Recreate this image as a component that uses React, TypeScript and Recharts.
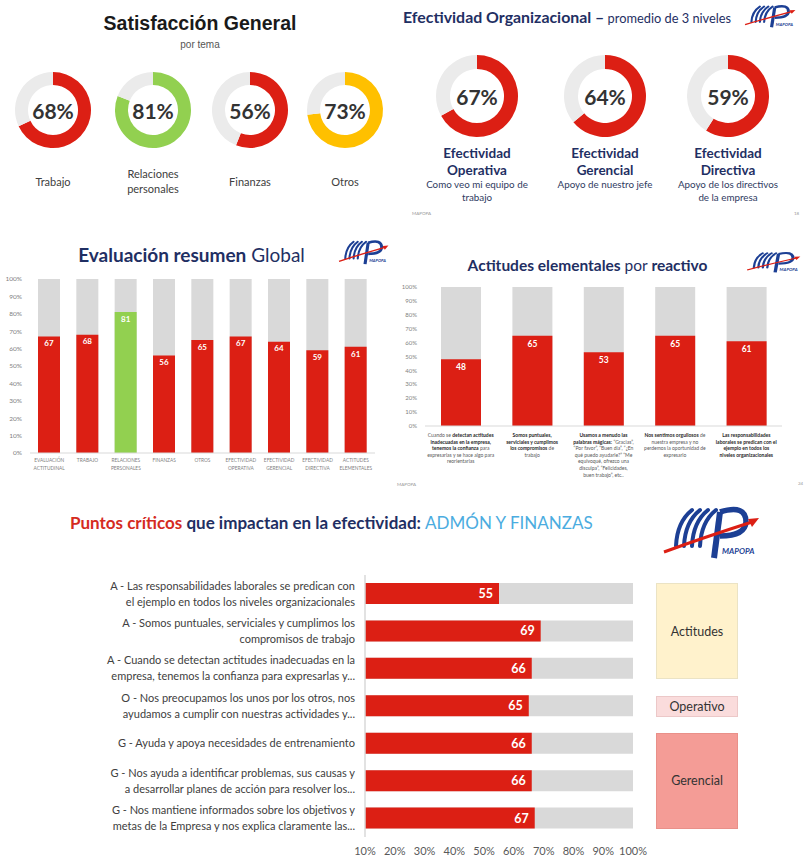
import { PieChart, Pie, Cell, BarChart, Bar, XAxis, YAxis, LabelList } from "recharts";

// ---- data ----
const temaLabels = [["Trabajo"], ["Relaciones", "personales"], ["Finanzas"], ["Otros"]];
const temaValues = [68, 81, 56, 73];

const efectividadNames = ["Operativa", "Gerencial", "Directiva"];
const efectividadDesc = [
  ["Como veo mi equipo de", "trabajo"],
  ["Apoyo de nuestro jefe"],
  ["Apoyo de los directivos", "de la empresa"],
];
const efectividadValues = [67, 64, 59];

const resumenLabels = [
  ["EVALUACIÓN", "ACTITUDINAL"],
  ["TRABAJO"],
  ["RELACIONES", "PERSONALES"],
  ["FINANZAS"],
  ["OTROS"],
  ["EFECTIVIDAD", "OPERATIVA"],
  ["EFECTIVIDAD", "GERENCIAL"],
  ["EFECTIVIDAD", "DIRECTIVA"],
  ["ACTITUDES", "ELEMENTALES"],
];
const resumenValues = [67, 68, 81, 56, 65, 67, 64, 59, 61];

const reactivoLabels = [
  ["Cuando se detectan actitudes", "inadecuadas en la empresa,", "tenemos la confianza para", "expresarlas y se hace algo para", "reorientarlas"],
  ["Somos puntuales,", "serviciales y cumplimos", "los compromisos de", "trabajo"],
  ["Usamos a menudo las", "palabras mágicas: “Gracias”,", "“Por favor”, “Buen día”, “¿En", "qué puedo ayudarle?” “Me", "equivoqué, ofrezco una", "disculpa”,  “Felicidades,", "buen trabajo”, etc.."],
  ["Nos sentimos orgullosos de", "nuestra empresa y no", "perdemos la oportunidad de", "expresarlo"],
  ["Las responsabilidades", "laborales se predican con el", "ejemplo en todos los", "niveles organizacionales"],
];
const reactivoValues = [48, 65, 53, 65, 61];

const criticosLabels = [
  ["A - Las responsabilidades laborales se predican con", "el ejemplo en todos los niveles organizacionales"],
  ["A - Somos puntuales, serviciales y cumplimos los", "compromisos de trabajo"],
  ["A - Cuando se detectan actitudes inadecuadas en la", "empresa, tenemos la confianza para expresarlas y..."],
  ["O - Nos preocupamos los unos por los otros, nos", "ayudamos a cumplir con nuestras actividades y..."],
  ["G - Ayuda y apoya necesidades de entrenamiento"],
  ["G - Nos ayuda a identificar problemas, sus causas y", "a desarrollar planes de acción para resolver los..."],
  ["G - Nos mantiene informados sobre los objetivos y", "metas de la Empresa y nos explica claramente las..."],
];
const criticosValues = [55, 69, 66, 65, 66, 66, 67];
const criticosTicks = [10, 20, 30, 40, 50, 60, 70, 80, 90, 100];

const grupoNames = ["Actitudes", "Operativo", "Gerencial"];
const grupoRows = [3, 1, 3];

const pctTicks = [0, 10, 20, 30, 40, 50, 60, 70, 80, 90, 100];

// ---- styles ----
const RED = "#dc1f14";
const GREEN = "#92d050";
const YELLOW = "#ffc000";
const TRACK = "#ebebeb";
const GREY_BAR = "#d9d9d9";
const NAVY = "#1f2f63";
const LOGO_BLUE = "#1c3f94";
const FONT = "Lato, 'Open Sans', sans-serif";
const GRUPO_FILLS = ["#fff2cc", "#fadcdc", "#f49c96"];
const GRUPO_BORDERS = ["#ebe3c4", "#ecc8c8", "#e99089"];

// phrases set in bold inside the reactivo captions
const REACTIVO_BOLD = [
  "detectan actitudes",
  "inadecuadas en la empresa,",
  "tenemos la confianza",
  "Somos puntuales,",
  "serviciales y cumplimos",
  "los compromisos",
  "Usamos a menudo las",
  "palabras mágicas:",
  "Nos sentimos orgullosos",
  "Las responsabilidades",
  "laborales se predican con el",
  "ejemplo en todos los",
  "niveles organizacionales",
];

const levelColor = (v: number) => (v >= 80 ? GREEN : v >= 70 ? YELLOW : RED);

const resumenData = resumenValues.map((value, i) => ({ name: resumenLabels[i].join(" "), value }));
const reactivoData = reactivoValues.map((value, i) => ({ name: "r" + i, value }));
const criticosData = criticosValues.map((value, i) => ({ name: "c" + i, value }));

function Donut({ value, size, outer, inner, fontSize }: any) {
  const data = [
    { name: "valor", value },
    { name: "resto", value: 100 - value },
  ];
  return (
    <div style={{ position: "relative", width: size, height: size }}>
      <PieChart width={size} height={size} margin={{ top: 0, right: 0, bottom: 0, left: 0 }}>
        <Pie
          data={data}
          dataKey="value"
          cx="50%"
          cy="50%"
          innerRadius={inner}
          outerRadius={outer}
          startAngle={90}
          endAngle={-270}
          stroke="none"
          isAnimationActive={false}
        >
          <Cell fill={levelColor(value)} />
          <Cell fill={TRACK} />
        </Pie>
      </PieChart>
      <div
        style={{
          position: "absolute",
          inset: 0,
          display: "flex",
          alignItems: "center",
          justifyContent: "center",
          fontSize,
          fontWeight: 700,
          color: "#333",
        }}
      >
        {value}%
      </div>
    </div>
  );
}

function Logo({ left, top, width, height }: any) {
  return (
    <svg
      style={{ position: "absolute", left, top }}
      width={width}
      height={height}
      viewBox="0 0 100 60"
      preserveAspectRatio="none"
    >
      {[0, 1, 2, 3].map((i) => (
        <path
          key={i}
          d={`M${14 + 8 * i} 44 Q ${15 + 8 * i} 20 ${30 + 8 * i} 8`}
          stroke={LOGO_BLUE}
          strokeWidth={4}
          fill="none"
          strokeLinecap="round"
        />
      ))}
      <path d="M52 56 L58 10" stroke={LOGO_BLUE} strokeWidth={6} fill="none" />
      <path d="M58 10 Q 84 2 84 20 Q 83 34 58 34" stroke={LOGO_BLUE} strokeWidth={5.5} fill="none" />
      <path d="M2 50 Q 40 36 90 20" stroke={RED} strokeWidth={3} fill="none" />
      <polygon points="97,16 86,17 90,25" fill={RED} />
      <text x={60} y={52} fontSize={8} fontStyle="italic" fontWeight={700} fill={LOGO_BLUE}>
        MAPOPA
      </text>
    </svg>
  );
}

const ResumenTick = (props: any) => {
  const { x, y, index } = props;
  const lines = resumenLabels[index] || [];
  return (
    <text x={x} y={y} textAnchor="middle" fontSize={4.8} fill="#7f7f7f">
      {lines.map((l, i) => (
        <tspan key={i} x={x} y={y + 9 + i * 8}>
          {l}
        </tspan>
      ))}
    </text>
  );
};

function boldSplit(line: string) {
  const phrase = REACTIVO_BOLD.find((p) => line.includes(p));
  if (!phrase) return [{ t: line, b: false }];
  const at = line.indexOf(phrase);
  return [
    { t: line.slice(0, at), b: false },
    { t: phrase, b: true },
    { t: line.slice(at + phrase.length), b: false },
  ].filter((s) => s.t.length > 0);
}

const ReactivoTick = (props: any) => {
  const { x, y, index } = props;
  const lines = reactivoLabels[index] || [];
  return (
    <g>
      {lines.map((l, i) => (
        <text key={i} x={x} y={y + 11 + i * 6.6} textAnchor="middle" fontSize={5} fill="#404040">
          {boldSplit(l).map((s, j) => (
            <tspan key={j} fontWeight={s.b ? 700 : 400} fill={s.b ? "#262626" : "#595959"}>
              {s.t}
            </tspan>
          ))}
        </text>
      ))}
    </g>
  );
};

const CriticoTick = (props: any) => {
  const { x, y, index } = props;
  const lines = criticosLabels[index] || [];
  const start = y - ((lines.length - 1) * 16) / 2;
  return (
    <text x={x} y={start} textAnchor="end" fontSize={11} fill="#404040">
      {lines.map((l, i) => (
        <tspan key={i} x={x} y={start + i * 16} dy="0.35em">
          {l}
        </tspan>
      ))}
    </text>
  );
};

const abs = (left: number, top: number, extra: any = {}) => ({ position: "absolute" as const, left, top, ...extra });

export default function App() {
  const temaCx = [53, 153, 250, 345];
  const efCx = [477, 605, 728];

  // layout of the horizontal chart rows, used to place the group boxes
  const critTop = 575;
  const critBand = 262 / criticosValues.length;
  const critBar = 21;
  let rowStart = 0;

  return (
    <div
      style={{
        position: "absolute",
        left: 0,
        top: 0,
        width: 810,
        height: 864,
        background: "#fff",
        fontFamily: FONT,
        overflow: "hidden",
      }}
    >
      {/* SATISFACCIÓN GENERAL */}
      <div
        style={abs(0, 11, {
          width: 400,
          textAlign: "center",
          fontFamily: "'Liberation Sans', Arial, sans-serif",
          fontWeight: 700,
          fontSize: 19.5,
          lineHeight: "24px",
          color: "#1a1a1a",
        })}
      >
        Satisfacción General
      </div>
      <div
        style={abs(0, 39, {
          width: 400,
          textAlign: "center",
          fontFamily: "'Liberation Sans', Arial, sans-serif",
          fontSize: 10,
          lineHeight: "12px",
          color: "#555",
        })}
      >
        por tema
      </div>
      {temaValues.map((v, i) => (
        <div key={i} style={abs(temaCx[i] - 42, 68)}>
          <Donut value={v} size={84} outer={38} inner={25} fontSize={21} />
        </div>
      ))}
      {temaLabels.map((lines, i) => (
        <div
          key={i}
          style={abs(temaCx[i] - 50, 165, {
            width: 100,
            height: 32,
            display: "flex",
            flexDirection: "column",
            justifyContent: "center",
            alignItems: "center",
            fontSize: 11,
            lineHeight: "15px",
            color: "#404040",
          })}
        >
          {lines.map((l, j) => (
            <div key={j}>{l}</div>
          ))}
        </div>
      ))}

      {/* EFECTIVIDAD ORGANIZACIONAL */}
      <div style={abs(403, 8, { lineHeight: "18px", color: NAVY, whiteSpace: "nowrap" })}>
        <span style={{ fontWeight: 700, fontSize: 15.9 }}>Efectividad Organizacional –</span>
        <span style={{ fontSize: 12.8 }}> promedio de 3 niveles</span>
      </div>
      <Logo left={744} top={3} width={53} height={26} />
      {efectividadValues.map((v, i) => (
        <div key={i} style={abs(efCx[i] - 45, 51)}>
          <Donut value={v} size={90} outer={41} inner={27} fontSize={21} />
        </div>
      ))}
      {efectividadNames.map((n, i) => (
        <div key={i} style={abs(efCx[i] - 65, 145, { width: 130, textAlign: "center", color: NAVY })}>
          <div style={{ fontWeight: 700, fontSize: 13.5, lineHeight: "17px" }}>Efectividad</div>
          <div style={{ fontWeight: 700, fontSize: 13.5, lineHeight: "17px" }}>{n}</div>
          <div style={{ fontSize: 9.8, lineHeight: "13px", color: "#2f3b5f", marginTop: -1 }}>
            {efectividadDesc[i].map((d, j) => (
              <div key={j}>{d}</div>
            ))}
          </div>
        </div>
      ))}
      <div style={abs(412, 211, { fontSize: 4.5, color: "#999" })}>MAPOPA</div>
      <div style={abs(794, 211, { fontSize: 4.5, color: "#999" })}>18</div>

      {/* EVALUACIÓN RESUMEN GLOBAL */}
      <div
        style={abs(0, 244, {
          width: 383,
          textAlign: "center",
          fontSize: 19,
          lineHeight: "22px",
          color: NAVY,
        })}
      >
        <span style={{ fontWeight: 700 }}>Evaluación resumen</span> Global
      </div>
      <Logo left={338} top={238} width={52} height={28} />
      <div style={abs(0, 270)}>
        <BarChart
          width={395}
          height={205}
          data={resumenData}
          margin={{ top: 9, right: 20, bottom: 2, left: 0 }}
          barSize={22}
        >
          <XAxis
            dataKey="name"
            interval={0}
            height={20}
            axisLine={{ stroke: GREY_BAR }}
            tickLine={false}
            tickSize={0}
            tickMargin={0}
            tick={<ResumenTick />}
          />
          <YAxis
            domain={[0, 100]}
            ticks={pctTicks}
            tickFormatter={(v) => v + "%"}
            width={30}
            axisLine={false}
            tickLine={false}
            tickSize={0}
            tickMargin={8}
            tick={{ fontSize: 6.5, fill: "#7f7f7f" }}
          />
          <Bar dataKey="value" background={{ fill: GREY_BAR }} isAnimationActive={false}>
            {resumenValues.map((v, i) => (
              <Cell key={i} fill={levelColor(v)} />
            ))}
            <LabelList dataKey="value" position="insideTop" offset={4} fill="#fff" fontSize={8} fontWeight={700} />
          </Bar>
        </BarChart>
      </div>

      {/* ACTITUDES ELEMENTALES POR REACTIVO */}
      <div
        style={abs(395, 255, {
          width: 385,
          textAlign: "center",
          fontSize: 15.5,
          lineHeight: "20px",
          color: NAVY,
          whiteSpace: "nowrap",
        })}
      >
        <span style={{ fontWeight: 700 }}>Actitudes elementales</span> por{" "}
        <span style={{ fontWeight: 700 }}>reactivo</span>
      </div>
      <Logo left={746} top={250} width={56} height={24} />
      <div style={abs(395, 280)}>
        <BarChart
          width={410}
          height={210}
          data={reactivoData}
          margin={{ top: 7, right: 23, bottom: 0, left: 0 }}
          barSize={40}
        >
          <XAxis
            dataKey="name"
            interval={0}
            height={64}
            axisLine={{ stroke: GREY_BAR }}
            tickLine={false}
            tickSize={0}
            tickMargin={0}
            tick={<ReactivoTick />}
          />
          <YAxis
            domain={[0, 100]}
            ticks={pctTicks}
            tickFormatter={(v) => v + "%"}
            width={30}
            axisLine={false}
            tickLine={false}
            tickSize={0}
            tickMargin={8}
            tick={{ fontSize: 6, fill: "#7f7f7f" }}
          />
          <Bar dataKey="value" fill={RED} background={{ fill: GREY_BAR }} isAnimationActive={false}>
            <LabelList dataKey="value" position="insideTop" offset={5} fill="#fff" fontSize={8.5} fontWeight={700} />
          </Bar>
        </BarChart>
      </div>
      <div style={abs(397, 482, { fontSize: 4.5, color: "#999" })}>MAPOPA</div>
      <div style={abs(798, 481, { fontSize: 4.5, color: "#999" })}>24</div>

      {/* PUNTOS CRÍTICOS */}
      <div style={abs(70, 511, { fontSize: 17, lineHeight: "24px", whiteSpace: "nowrap" })}>
        <span style={{ color: "#d52b1e", fontWeight: 700 }}>Puntos críticos</span>
        <span style={{ color: NAVY, fontWeight: 700 }}> que impactan en la efectividad: </span>
        <span style={{ color: "#4bace0" }}> ADMÓN Y FINANZAS</span>
      </div>
      <Logo left={662} top={502} width={100} height={60} />
      <div style={abs(0, 570)}>
        <BarChart
          layout="vertical"
          width={650}
          height={294}
          data={criticosData}
          margin={{ top: 5, right: 17, bottom: 5, left: 0 }}
          barSize={critBar}
        >
          <XAxis
            type="number"
            domain={[10, 100]}
            ticks={criticosTicks}
            tickFormatter={(v) => v + "%"}
            height={22}
            axisLine={false}
            tickLine={false}
            tickSize={0}
            tickMargin={10}
            tick={{ fontSize: 11, fill: "#595959" }}
          />
          <YAxis
            type="category"
            dataKey="name"
            width={365}
            interval={0}
            axisLine={{ stroke: GREY_BAR, strokeWidth: 1.5 }}
            tickLine={false}
            tickSize={0}
            tickMargin={10}
            tick={<CriticoTick />}
          />
          <Bar dataKey="value" fill={RED} background={{ fill: GREY_BAR }} isAnimationActive={false}>
            <LabelList dataKey="value" position="insideRight" offset={6} fill="#fff" fontSize={12.5} fontWeight={700} />
          </Bar>
        </BarChart>
      </div>
      {grupoNames.map((g, i) => {
        const top = critTop + rowStart * critBand + (critBand - critBar) / 2;
        const height = grupoRows[i] * critBand - (critBand - critBar);
        rowStart += grupoRows[i];
        return (
          <div
            key={g}
            style={abs(656, top, {
              width: 82,
              height,
              boxSizing: "border-box",
              background: GRUPO_FILLS[i],
              border: `1px solid ${GRUPO_BORDERS[i]}`,
              display: "flex",
              alignItems: "center",
              justifyContent: "center",
              fontSize: 12.5,
              color: "#333",
            })}
          >
            {g}
          </div>
        );
      })}
    </div>
  );
}
